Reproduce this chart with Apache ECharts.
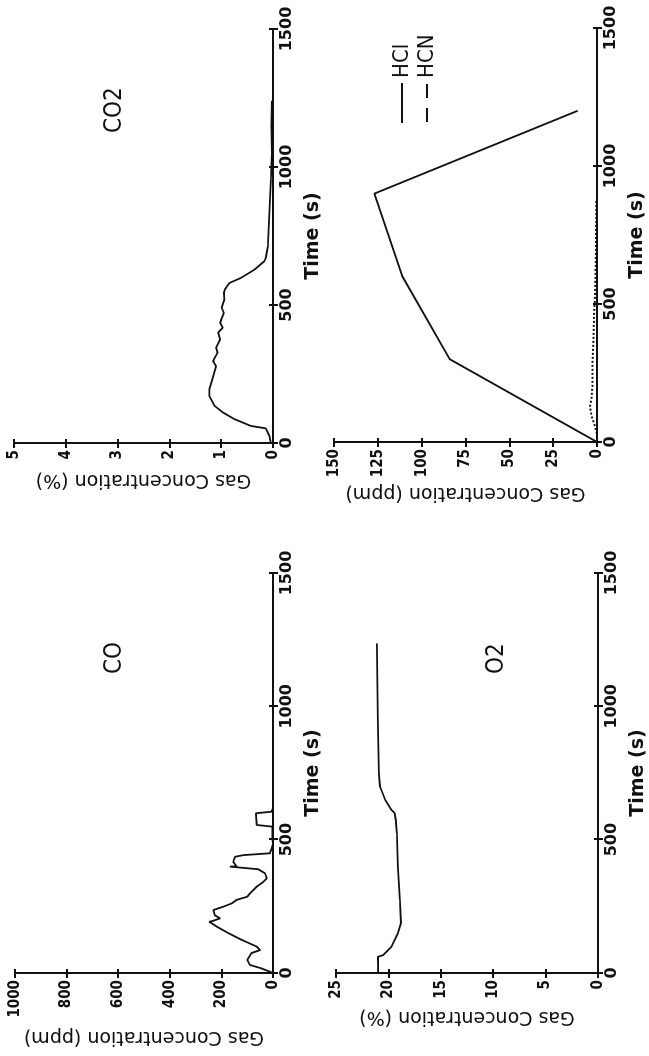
<!DOCTYPE html>
<html>
<head>
<meta charset="utf-8">
<title>Gas concentrations</title>
<script src="https://cdn.jsdelivr.net/npm/echarts@6.0.0/dist/echarts.min.js"></script>
<style>
    html, body { margin: 0; padding: 0; background: #fff; overflow: hidden; }
    /* the figure is laid out landscape and turned a quarter turn, like the scanned page */
    #chart {
        position: absolute; left: 0; top: 0;
        width: 1056px; height: 649px;
        transform-origin: 0 0;
        transform: rotate(-90deg) translateX(-1056px);
    }
</style>
</head>
<body>
<div id="chart"></div>
<script>
    // time axis ticks (s)
    const timeTicks = [0, 500, 1000, 1500];

    // CO (ppm)
    const coTime = [0, 5, 19, 30, 49, 75, 86, 99, 124, 150, 174, 192, 196, 205, 216, 236, 249, 261, 274, 280, 286, 299, 324, 342, 355, 374, 389, 399, 400, 417, 436, 442, 449, 467, 486, 505, 549, 555, 599, 605, 620];
    const coPpm = [0, 12, 50, 89, 100, 83, 50, 63, 121, 174, 218, 247, 231, 205, 225, 231, 192, 160, 141, 121, 100, 89, 63, 37, 24, 31, 57, 167, 141, 154, 147, 115, 12, 5, 0, 2, 3, 63, 66, 5, 0];

    // CO2 (%)
    const co2Time = [0, 26, 53, 62, 87, 111, 135, 171, 195, 231, 279, 297, 327, 345, 375, 400, 418, 436, 472, 490, 520, 544, 556, 580, 598, 628, 658, 670, 712, 833, 953, 1050, 1150, 1240];
    const co2Pct = [0.04, 0.07, 0.14, 0.43, 0.75, 0.97, 1.13, 1.23, 1.23, 1.17, 1.10, 1.16, 1.07, 1.10, 1.02, 1.06, 0.97, 1.02, 0.95, 0.99, 0.94, 0.95, 0.93, 0.84, 0.62, 0.36, 0.17, 0.14, 0.10, 0.07, 0.04, 0.02, 0.03, 0.02];

    // O2 (%)
    const o2Time = [0, 61, 67, 99, 149, 186, 274, 399, 524, 574, 600, 611, 649, 699, 749, 937, 1236];
    const o2Pct = [20.98, 21.0, 20.5, 19.7, 19.1, 18.8, 18.9, 19.1, 19.2, 19.3, 19.4, 19.7, 20.3, 20.8, 20.9, 21.0, 21.1];

    // HCl and HCN (ppm)
    const hclTime = [0, 300, 600, 900, 1200];
    const hclPpm = [0, 84, 111, 127, 11];
    const hcnTime = [30, 56, 92, 128, 164, 213, 297, 370, 454, 539, 624, 700, 780, 877];
    const hcnPpm = [0, 1.1, 3, 4, 3, 2.5, 2.5, 2, 1.7, 1.1, 0.8, 0.6, 0.5, 0.4];

    const INK = '#111';
    const NARROW = "'Liberation Sans Narrow', 'DejaVu Sans Condensed', 'Liberation Sans', sans-serif";
    const WIDE = "'DejaVu Sans', 'Liberation Sans', sans-serif";

    function pairs(xs, ys) {
        return xs.map((x, i) => [x, ys[i]]);
    }

    // plain numbers, no thousands separator
    function plain(v) {
        return String(v);
    }

    // main axis plus a twin with inside ticks, so the ticks cross the axis line
    function timeAxes(gi) {
        return [
            {
                type: 'value', gridIndex: gi, min: timeTicks[0], max: timeTicks[timeTicks.length - 1],
                interval: timeTicks[1] - timeTicks[0],
                name: 'Time (s)', nameLocation: 'middle', nameGap: 31,
                nameTextStyle: {color: INK, fontFamily: WIDE, fontSize: 19, fontWeight: 'bold'},
                axisLine: {lineStyle: {color: INK, width: 2}},
                axisTick: {length: 5, lineStyle: {color: INK, width: 2}},
                axisLabel: {color: INK, margin: 6, fontFamily: WIDE, fontSize: 16, fontWeight: 'bold', formatter: plain},
                splitLine: {show: false}
            },
            {
                type: 'value', gridIndex: gi, position: 'bottom', min: timeTicks[0], max: timeTicks[timeTicks.length - 1],
                interval: timeTicks[1] - timeTicks[0],
                axisLine: {show: false},
                axisTick: {inside: true, length: 4, lineStyle: {color: INK, width: 2}},
                axisLabel: {show: false},
                splitLine: {show: false}
            }
        ];
    }

    function concAxes(gi, max, interval, name, nameGap) {
        return [
            {
                type: 'value', gridIndex: gi, min: 0, max: max, interval: interval,
                name: name, nameLocation: 'middle', nameRotate: 90, nameGap: nameGap,
                nameTextStyle: {color: INK, fontFamily: WIDE, fontSize: 19},
                axisLine: {show: true, lineStyle: {color: INK, width: 2}},
                axisTick: {show: true, length: 5, lineStyle: {color: INK, width: 2}},
                axisLabel: {color: INK, margin: 7, fontFamily: NARROW, fontSize: 15, fontWeight: 'bold', formatter: plain},
                splitLine: {show: false}
            },
            {
                type: 'value', gridIndex: gi, position: 'left', min: 0, max: max, interval: interval,
                axisLine: {show: false},
                axisTick: {show: true, inside: true, length: 4, lineStyle: {color: INK, width: 2}},
                axisLabel: {show: false},
                splitLine: {show: false}
            }
        ];
    }

    function trace(name, gi, data, type) {
        return {
            name: name, type: 'line', xAxisIndex: gi * 2, yAxisIndex: gi * 2,
            data: data, showSymbol: false, symbol: 'none',
            lineStyle: {color: INK, width: type === 'dotted' ? 2 : 1.8, type: type || 'solid'},
            itemStyle: {color: INK}
        };
    }

    let chart = echarts.init(document.getElementById('chart'));
    let option = {
        animation: false,
        backgroundColor: '#fff',
        grid: [
            {left: 83, top: 15, width: 400, height: 258},
            {left: 613, top: 14, width: 414, height: 259},
            {left: 83, top: 336, width: 400, height: 262},
            {left: 614, top: 334, width: 414, height: 263}
        ],
        title: [
            {text: 'CO', left: 382, top: 103, padding: 0, textStyle: {color: INK, fontFamily: NARROW, fontSize: 24, fontWeight: 'normal'}},
            {text: 'CO2', left: 923, top: 103, padding: 0, textStyle: {color: INK, fontFamily: NARROW, fontSize: 24, fontWeight: 'normal'}},
            {text: 'O2', left: 382, top: 485, padding: 0, textStyle: {color: INK, fontFamily: NARROW, fontSize: 24, fontWeight: 'normal'}}
        ],
        legend: {
            orient: 'vertical', left: 928, top: 386,
            itemWidth: 40, itemHeight: 2, itemGap: 3,
            selectedMode: false,
            textStyle: {color: INK, fontFamily: NARROW, fontSize: 22},
            data: [
                {name: 'HCl', icon: 'path://M0,0H40V2H0Z'},
                {name: 'HCN', icon: 'path://M0,0H14V2H0Z M24,0H38V2H24Z'}
            ]
        },
        xAxis: [].concat(timeAxes(0), timeAxes(1), timeAxes(2), timeAxes(3)),
        yAxis: [].concat(
            concAxes(0, 1000, 200, 'Gas Concentration (ppm)', 54),
            concAxes(1, 5, 1, 'Gas Concentration (%)', 27),
            concAxes(2, 25, 5, 'Gas Concentration (%)', 34),
            concAxes(3, 150, 25, 'Gas Concentration (ppm)', 41)
        ),
        series: [
            trace('CO', 0, pairs(coTime, coPpm)),
            trace('CO2', 1, pairs(co2Time, co2Pct)),
            trace('O2', 2, pairs(o2Time, o2Pct)),
            trace('HCl', 3, pairs(hclTime, hclPpm)),
            trace('HCN', 3, pairs(hcnTime, hcnPpm), 'dotted')
        ]
    };
    chart.setOption(option);
</script>
</body>
</html>
